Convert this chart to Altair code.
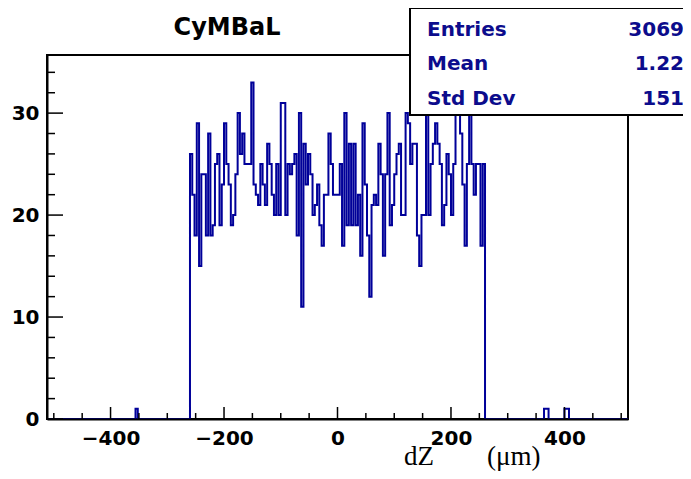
import altair as alt
import pandas as pd

# ---------------- data ----------------
BIN_LO = -512
BIN_W = 4
N_BINS = 256
MAIN_START = -260

main_counts = [
    26, 22, 18, 29, 15, 24, 24, 18, 28, 18,
    19, 25, 26, 19, 23, 29, 25, 23, 19, 20,
    24, 30, 26, 28, 25, 25, 25, 33, 23, 22,
    21, 25, 23, 21, 27, 25, 22, 20, 25, 20,
    31, 31, 20, 25, 24, 25, 26, 18, 30, 11,
    27, 23, 26, 24, 20, 21, 23, 19, 17, 22,
    22, 28, 25, 22, 22, 22, 25, 17, 30, 19,
    27, 19, 27, 19, 22, 16, 29, 23, 18, 12,
    21, 22, 21, 27, 24, 16, 24, 30, 19, 21,
    24, 26, 27, 20, 20, 30, 29, 25, 27, 27,
    18, 15, 20, 20, 30, 20, 25, 27, 29, 27,
    25, 19, 21, 26, 24, 20, 25, 34, 31, 28,
    23, 17, 25, 31, 25, 22, 25, 25, 17, 25,
]
outlier_edges = [-356, 364, 368, 400, 404]
outlier_counts = [1, 1, 1, 1, 1]

x_label_values = [-400, -200, 0, 200, 400]
x_minor_values = [-500, -450, -350, -300, -250, -150, -100, -50,
                  50, 100, 150, 250, 300, 350, 450, 500]
y_label_values = [0, 10, 20, 30]
y_minor_values = [2, 4, 6, 8, 12, 14, 16, 18, 22, 24, 26, 28, 32, 34]

stats_names = ["Entries", "Mean", "Std Dev"]
stats_values = ["3069", "1.22", "151"]

# build full histogram table
counts = [0] * N_BINS
for i, c in enumerate(main_counts):
    counts[(MAIN_START - BIN_LO) // BIN_W + i] = c
for e, c in zip(outlier_edges, outlier_counts):
    counts[(e - BIN_LO) // BIN_W] = c
edges = [BIN_LO + i * BIN_W for i in range(N_BINS + 1)]
hist = pd.DataFrame({"x": edges, "y": counts + [0]})

# ---------------- layout ----------------
W, H = 581, 364
FONT = "DejaVu Sans"
BLUE = "#000099"
TXTBLUE = "#0c0c8c"

xs = alt.Scale(domain=[-512, 512], nice=False, zero=False)
ys = alt.Scale(domain=[0, 35.7], nice=False, zero=True)

one = pd.DataFrame({"a": [0]})

frame = alt.Chart(one).mark_rect(
    fill="white", stroke="black", strokeWidth=2
).encode(x=alt.value(0), x2=alt.value(W), y=alt.value(0), y2=alt.value(H))

hist_layer = alt.Chart(hist).mark_line(
    interpolate="step-after", color=BLUE, strokeWidth=2
).encode(
    x=alt.X("x:Q", scale=xs, axis=alt.Axis(
        values=x_label_values, ticks=False, grid=False, title=None,
        labelFont=FONT, labelFontSize=20, labelFontWeight="bold",
        labelColor="black", labelPadding=9, labelOverlap=False,
        labelFlush=False, domainColor="black", domainWidth=2, zindex=1)),
    y=alt.Y("y:Q", scale=ys, axis=alt.Axis(
        values=y_label_values, ticks=False, grid=False, title=None,
        labelFont=FONT, labelFontSize=20, labelFontWeight="bold",
        labelColor="black", labelPadding=8, labelOverlap=False,
        labelFlush=False, domainColor="black", domainWidth=2, zindex=1)),
)

def xticks(vals, length):
    return alt.Chart(pd.DataFrame({"v": vals})).mark_rule(
        color="black", strokeWidth=1.5
    ).encode(x=alt.X("v:Q", scale=xs), y=alt.value(H), y2=alt.value(H - length))

def yticks(vals, length):
    return alt.Chart(pd.DataFrame({"v": vals})).mark_rule(
        color="black", strokeWidth=1.5
    ).encode(y=alt.Y("v:Q", scale=ys), x=alt.value(0), x2=alt.value(length))

stats_box = alt.Chart(one).mark_rect(
    fill="white", stroke="black", strokeWidth=2
).encode(x=alt.value(363), x2=alt.value(641), y=alt.value(-47), y2=alt.value(60))

stats_df = pd.DataFrame({"name": stats_names, "val": stats_values,
                         "py": [-25, 9, 44]})
stats_names_layer = alt.Chart(stats_df).mark_text(
    align="left", baseline="middle", font=FONT, fontSize=20,
    fontWeight="bold", color=TXTBLUE
).encode(x=alt.value(380), y=alt.Y("py:Q", scale=None, axis=None), text="name:N")
stats_vals_layer = alt.Chart(stats_df).mark_text(
    align="right", baseline="middle", font=FONT, fontSize=20,
    fontWeight="bold", color=TXTBLUE
).encode(x=alt.value(637), y=alt.Y("py:Q", scale=None, axis=None), text="val:N")

title_layer = alt.Chart(one).mark_text(
    text="CyMBaL", align="center", baseline="middle", font=FONT,
    fontSize=24, fontWeight="bold", color="black"
).encode(x=alt.value(180), y=alt.value(-27))

xtitle_a = alt.Chart(one).mark_text(
    text="dZ", align="left", baseline="alphabetic", font="Liberation Serif",
    fontSize=27, color="black"
).encode(x=alt.value(357), y=alt.value(410))
xtitle_b = alt.Chart(one).mark_text(
    text="(μm)", align="left", baseline="alphabetic", font="Liberation Serif",
    fontSize=27, color="black"
).encode(x=alt.value(440), y=alt.value(410))

chart = alt.layer(
    frame,
    hist_layer,
    xticks(x_label_values, 12), xticks(x_minor_values, 6),
    yticks(y_label_values, 16), yticks(y_minor_values, 8),
    stats_box, stats_names_layer, stats_vals_layer,
    title_layer, xtitle_a, xtitle_b,
).properties(
    width=W, height=H,
    autosize=alt.AutoSizeParams(type="none"),
    padding={"left": 39, "top": 47, "right": 55, "bottom": 52},
).configure_view(stroke=None).configure(background="white")

chart.save("out.html", embed_options={"renderer": "svg", "actions": False})
